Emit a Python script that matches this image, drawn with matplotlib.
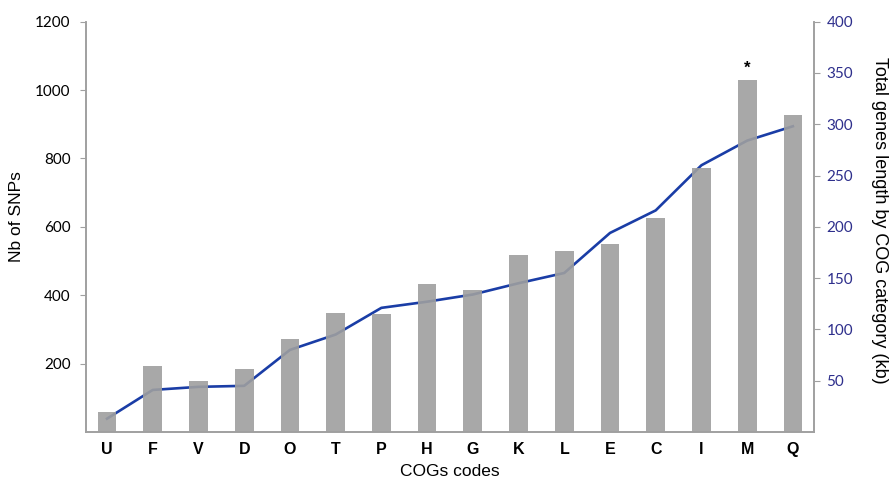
import numpy as np
import matplotlib.pyplot as plt

# COG categories, sorted by total gene length
cogs = ['U', 'F', 'V', 'D', 'O', 'T', 'P', 'H', 'G', 'K', 'L', 'E', 'C', 'I', 'M', 'Q']
# number of SNPs per category (left axis)
snps = [58, 193, 148, 184, 271, 347, 345, 433, 414, 517, 530, 551, 626, 773, 1029, 927]
# total genes length in kb (right axis)
gene_len = [13, 41, 44, 45, 80, 95, 121, 127, 134, 145, 155, 194, 216, 260, 284, 298]

left_ticks = [200, 400, 600, 800, 1000, 1200]
right_ticks = [50, 100, 150, 200, 250, 300, 350, 400]

axis_grey = '#a0a0a0'
bar_grey = '#9f9f9f'
line_blue = '#1a3da6'
navy = '#2e2f8c'

fig = plt.figure(figsize=(8.91, 4.8), dpi=100)
ax = fig.add_axes([0.0965, 0.1, 0.817, 0.855])
ax2 = ax.twinx()

x = np.arange(len(cogs))

# line on the twin axis, bars drawn over it
ax2.plot(x, gene_len, color=line_blue, lw=1.9, solid_joinstyle='round')
ax.bar(x, snps, width=0.41, color=bar_grey, alpha=0.9, zorder=3)
ax.set_zorder(ax2.get_zorder() + 1)
ax.patch.set_visible(False)

# star on M
m = cogs.index('M')
ax.text(m, snps[m] + 12, '*', ha='center', va='bottom', fontsize=12,
        fontweight='bold', family='Liberation Sans')

ax.set_xlim(-0.46, len(cogs) - 0.54)
ax.set_ylim(0, 1200)
ax2.set_ylim(0, 400)

ax.set_yticks(left_ticks)
ax.set_yticklabels([str(t) for t in left_ticks], family='Lato', fontsize=11)
ax2.set_yticks(right_ticks)
ax2.set_yticklabels([str(t) for t in right_ticks], family='Lato', fontsize=11, color=navy)

ax.set_xticks(x)
ax.set_xticklabels(cogs, family='Liberation Sans', fontweight='bold', fontsize=11.5)
ax.tick_params(axis='x', length=0, pad=7)
ax.tick_params(axis='y', length=4, color=axis_grey, pad=7)
ax2.tick_params(axis='y', length=4, color=axis_grey, pad=5)

for a in (ax, ax2):
    a.spines['top'].set_visible(False)
    for s in ('left', 'right', 'bottom'):
        a.spines[s].set_color(axis_grey)
        a.spines[s].set_linewidth(1.2)

ax.set_xlabel('COGs codes', family='Liberation Sans', fontsize=12.5, labelpad=5)
ax.set_ylabel('Nb of SNPs', family='Liberation Sans', fontsize=12.5)
ax2.set_ylabel('Total genes length by COG category (kb)', family='Liberation Sans',
               fontsize=13, rotation=270, va='center', ha='center')
ax.yaxis.set_label_coords(-0.085, 0.526)
ax2.yaxis.set_label_coords(1.09, 0.517)

fig.savefig('out.png', dpi=100)
